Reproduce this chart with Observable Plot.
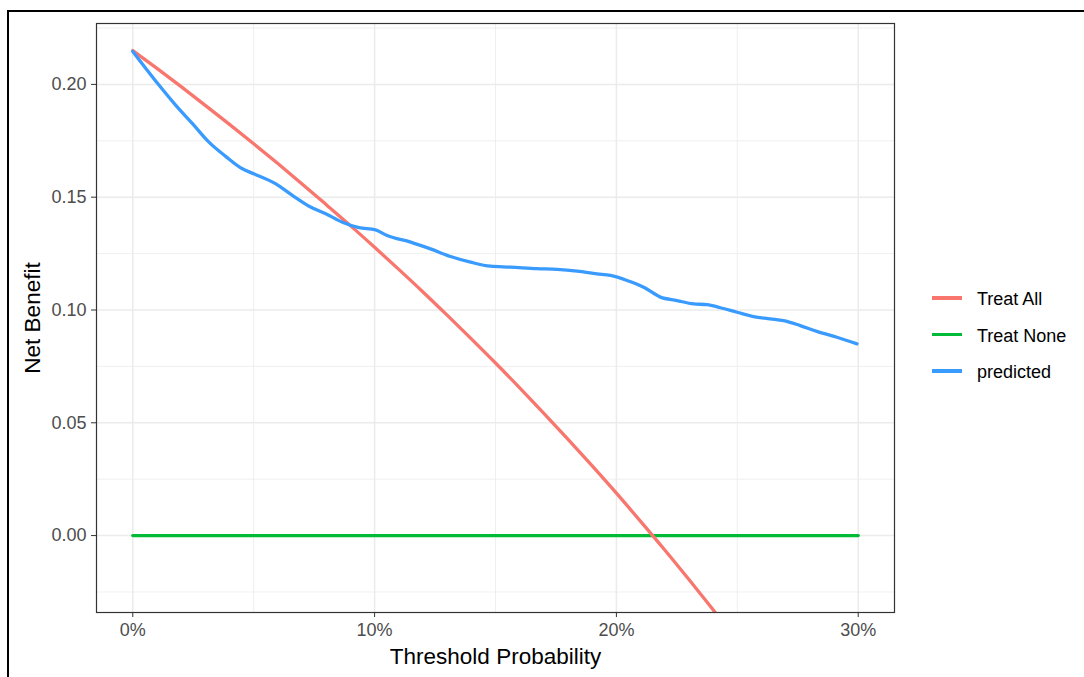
<!DOCTYPE html>
<html>
<head>
<meta charset="utf-8">
<script src="https://cdn.jsdelivr.net/npm/d3@7"></script>
<script src="https://cdn.jsdelivr.net/npm/@observablehq/plot@0.6"></script>
<style>
  html, body { margin: 0; padding: 0; background: #fff; overflow: hidden; width: 1084px; height: 677px; }
  #wrap { position: relative; width: 1084px; height: 677px; font-family: "Liberation Sans", Arial, sans-serif; }
  #frame { position: absolute; left: 7px; top: 10px; width: 1100px; height: 720px; border: 2px solid #000; box-sizing: border-box; pointer-events: none; }
  #chart { position: absolute; left: 0; top: 0; }
  #legend { position: absolute; left: 932px; top: 286px; font-size: 18px; color: #000; }
  .item { position: relative; height: 36.7px; }
  .key { position: absolute; left: 0; top: 10px; width: 30px; height: 3.5px; }
  .lab { position: absolute; left: 45px; top: 3px; white-space: nowrap; }
</style>
</head>
<body>
<div id="wrap">
  <div id="chart"></div>
  <div id="legend"></div>
  <div id="frame"></div>
</div>
<script>
// Series names and colours
const seriesNames = ["Treat All", "Treat None", "predicted"];
const seriesColors = ["#F8766D", "#00BA38", "#3A9BFF"];

// Treat All
const allX = [0, 0.01, 0.02, 0.03, 0.04, 0.05, 0.06, 0.07, 0.08, 0.09, 0.10, 0.11, 0.12, 0.13, 0.14, 0.15, 0.16, 0.17, 0.18, 0.19, 0.20, 0.21, 0.22, 0.23, 0.24, 0.25];
const allY = [0.2150, 0.2071, 0.1990, 0.1907, 0.1823, 0.1737, 0.1649, 0.1559, 0.1467, 0.1374, 0.1278, 0.1180, 0.1080, 0.0977, 0.0872, 0.0765, 0.0655, 0.0542, 0.0427, 0.0309, 0.0188, 0.0063, -0.0064, -0.0195, -0.0329, -0.0467];

// Treat None
const noneX = [0, 0.30];
const noneY = [0, 0];

// predicted model
const predX = [0, 0.0109, 0.0178, 0.0247, 0.0315, 0.0384, 0.0453, 0.050, 0.059, 0.066, 0.0729, 0.0798, 0.0867, 0.0935, 0.1004, 0.1052, 0.1149, 0.1231, 0.1314, 0.1397, 0.1479, 0.1562, 0.1672, 0.1755, 0.1838, 0.192, 0.1975, 0.2044, 0.2113, 0.2182, 0.225, 0.2319, 0.2375, 0.243, 0.2499, 0.2567, 0.2636, 0.2691, 0.276, 0.2829, 0.2912, 0.2995];
const predY = [0.2146, 0.1996, 0.1907, 0.1826, 0.1744, 0.1681, 0.1626, 0.1604, 0.1560, 0.1508, 0.1460, 0.1427, 0.1389, 0.1365, 0.1355, 0.1330, 0.1301, 0.1271, 0.1237, 0.1212, 0.1194, 0.1190, 0.1183, 0.1180, 0.1172, 0.1160, 0.1153, 0.1131, 0.1101, 0.1057, 0.1042, 0.1027, 0.1024, 0.1010, 0.0990, 0.0971, 0.0961, 0.0953, 0.0931, 0.0905, 0.0879, 0.0850];

// Ticks
const xMajor = [0, 0.1, 0.2, 0.3];
const xMinor = [0.05, 0.15, 0.25];
const yMajor = [0, 0.05, 0.10, 0.15, 0.20];
const yMinor = [-0.025, 0.025, 0.075, 0.125, 0.175, 0.225];

const allData = allX.map((x, i) => ({x, y: allY[i]}));
const noneData = noneX.map((x, i) => ({x, y: noneY[i]}));
const predData = predX.map((x, i) => ({x, y: predY[i]}));

const font = '"Liberation Sans", Arial, sans-serif';

const chart = Plot.plot({
  width: 1084,
  height: 677,
  marginLeft: 96,
  marginRight: 190,
  marginTop: 23,
  marginBottom: 65,
  style: { fontFamily: font, background: "transparent", overflow: "visible" },
  x: { domain: [-0.015, 0.315] },
  y: { domain: [-0.0341, 0.227] },
  marks: [
    Plot.gridX(xMinor, { stroke: "#ebebeb", strokeOpacity: 1, strokeWidth: 0.8 }),
    Plot.gridY(yMinor, { stroke: "#ebebeb", strokeOpacity: 1, strokeWidth: 0.8 }),
    Plot.gridX(xMajor, { stroke: "#ebebeb", strokeOpacity: 1, strokeWidth: 1.5 }),
    Plot.gridY(yMajor, { stroke: "#ebebeb", strokeOpacity: 1, strokeWidth: 1.5 }),
    Plot.line(noneData, { x: "x", y: "y", stroke: seriesColors[1], strokeWidth: 3.3, clip: true }),
    Plot.line(allData, { x: "x", y: "y", stroke: seriesColors[0], strokeWidth: 3.3, curve: "monotone-x", clip: true }),
    Plot.line(predData, { x: "x", y: "y", stroke: seriesColors[2], strokeWidth: 3.3, curve: "monotone-x", clip: true }),
    Plot.frame({ stroke: "#333333", strokeWidth: 1.2 }),
    Plot.axisX(xMajor, { tickFormat: d3.format(".0%"), tickSize: 5, tickPadding: 6, fontSize: 18, fill: "#4d4d4d", stroke: "#333333", label: null }),
    Plot.axisY(yMajor, { tickFormat: d3.format(".2f"), tickSize: 5, tickPadding: 5, fontSize: 18, fill: "#4d4d4d", stroke: "#333333", label: null }),
    Plot.text(["Threshold Probability"], { frameAnchor: "bottom", dy: 51, textAnchor: "middle", fontSize: 22.5, fill: "#000" }),
    Plot.text(["Net Benefit"], { frameAnchor: "left", dx: -64, rotate: -90, textAnchor: "middle", lineAnchor: "middle", fontSize: 22.5, fill: "#000" })
  ]
});
document.getElementById("chart").appendChild(chart);

const legend = document.getElementById("legend");
seriesNames.forEach((name, i) => {
  const item = document.createElement("div");
  item.className = "item";
  const key = document.createElement("div");
  key.className = "key";
  key.style.background = seriesColors[i];
  const lab = document.createElement("div");
  lab.className = "lab";
  lab.textContent = name;
  item.appendChild(key);
  item.appendChild(lab);
  legend.appendChild(item);
});
</script>
</body>
</html>
